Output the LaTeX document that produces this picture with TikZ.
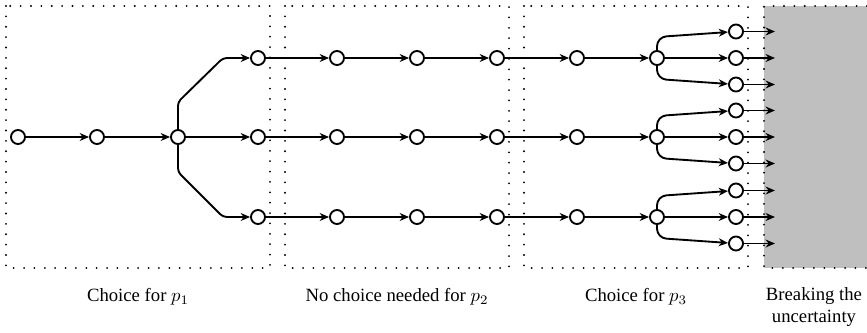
\documentclass[tikz,border=0pt]{standalone}
\usepackage{fontspec}
\setmainfont{Liberation Serif}
\usetikzlibrary{arrows.meta}
\definecolor{boxgray}{RGB}{191,191,191}
\begin{document}
\begin{tikzpicture}[x=0.535pt,y=-0.535pt,
  st/.style={circle,draw,line width=1pt,fill=white,minimum size=7.5pt,inner sep=0pt},
  edge/.style={line width=1pt,-{Stealth[length=5pt,width=4.2pt,inset=1.6pt]}},
  region/.style={line width=1.1pt,dash pattern=on 0pt off 5.55pt,line cap=round},
  lab/.style={font=\fontsize{10pt}{12pt}\selectfont,align=center}]
\useasboundingbox (0,0) rectangle (867,332);
% regions
\fill[boxgray] (764,6) rectangle (867,268);
\draw[region] (6,6) rectangle (270,268);
\draw[region] (285,6) rectangle (509,268);
\draw[region] (524,6) rectangle (748,268);
\draw[region] (867,6) -- (764,6) -- (764,268) -- (867,268);
% first part
\node[st] (s1) at (18,137) {};
\node[st] (s2) at (97,137) {};
\node[st] (br) at (178,137) {};
\draw[edge] (s1) -- (s2);
\draw[edge] (s2) -- (br);
% rows
\foreach \r/\y in {t/58,m/137,b/217}{
  \foreach \i/\x in {1/258,2/337,3/417,4/497,5/577,6/657}{
    \node[st] (\r\i) at (\x,\y) {};
  }
  \foreach \k/\d in {1/-26.5,2/0,3/26.5}{
    \node[st] (\r l\k) at (736,\y+\d) {};
    \coordinate (\r e\k) at (775,\y+\d);
    \draw[edge] (\r l\k) -- (\r e\k);
  }
  \draw[edge] (\r1) -- (\r2);
  \draw[edge] (\r2) -- (\r3);
  \draw[edge] (\r3) -- (\r4);
  \draw[edge] (\r4) -- (\r5);
  \draw[edge] (\r5) -- (\r6);
  \draw[edge] (\r6) -- (\r l2);
  \draw[edge,rounded corners=5pt] (\r6.north) -- (657,\y-21) -- (\r l1);
  \draw[edge,rounded corners=5pt] (\r6.south) -- (657,\y+21) -- (\r l3);
}
% first branching
\draw[edge] (br) -- (m1);
\draw[edge,rounded corners=2pt] (br.north) -- (178,102) -- (223,58) -- (t1);
\draw[edge,rounded corners=2pt] (br.south) -- (178,172) -- (223,217) -- (b1);
% labels
\node[lab] (c1) at (138,297) {Choice for $p_1$};
\node[lab] (c2) at (397,297) {No choice needed for $p_2$};
\node[lab] (c3) at (636,297) {Choice for $p_3$};
\node[lab] (c4) at (814,307) {Breaking the\\uncertainty};
\end{tikzpicture}
\end{document}
